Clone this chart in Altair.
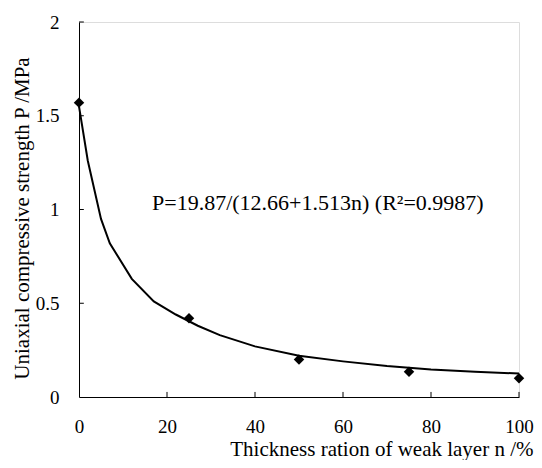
import altair as alt
import pandas as pd

# measured points
pt_n = [0, 25, 50, 75, 100]
pt_p = [1.57, 0.42, 0.20, 0.135, 0.10]

# fitted curve
fit_n = [0, 2, 5, 7, 12, 17, 22, 27, 32, 40, 50, 60, 70, 80, 90, 100]
fit_p = [1.55, 1.26, 0.95, 0.82, 0.63, 0.51, 0.44, 0.38, 0.33, 0.27, 0.22, 0.19, 0.165, 0.147, 0.135, 0.125]

x_ticks = [0, 20, 40, 60, 80, 100]
y_ticks = [0, 0.5, 1, 1.5, 2]

eq_text = "P=19.87/(12.66+1.513n) (R²=0.9987)"
x_title = "Thickness ration of weak layer n /%"
y_title = "Uniaxial compressive strength   P /MPa"

FONT = "Liberation Serif"
W, H = 440, 375
LBL = 19
TTL = 21

pts = pd.DataFrame({"n": pt_n, "p": pt_p})
fit = pd.DataFrame({"n": fit_n, "p": fit_p})
xt = pd.DataFrame({"t": x_ticks[1:]})
yt = pd.DataFrame({"t": y_ticks[1:]})

xs = alt.Scale(domain=[0, 100], nice=False)
ys = alt.Scale(domain=[0, 2], nice=False)

common = dict(grid=False, tickSize=0, labelFontSize=LBL, titleFontSize=TTL,
              titleFontWeight="normal", domainColor="black",
              labelColor="black", titleColor="black", labelFont=FONT,
              titleFont=FONT, labelFlush=False,
              labelExpr="toString(datum.value)")

x_axis = alt.Axis(values=x_ticks, title=x_title, labelPadding=20,
                  titleX=W + 14, titleY=58, titleAlign="right",
                  titleBaseline="alphabetic", **common)
y_axis = alt.Axis(values=y_ticks, title=y_title, labelPadding=20,
                  titleX=-57, titleY=196, titleBaseline="middle",
                  titleAlign="center", titleAngle=-90, **common)

line = alt.Chart(fit).mark_line(color="black", strokeWidth=2).encode(
    x=alt.X("n:Q", scale=xs, axis=x_axis),
    y=alt.Y("p:Q", scale=ys, axis=y_axis),
)
points = alt.Chart(pts).mark_point(shape="diamond", filled=True, color="black",
                                   size=110, opacity=1).encode(
    x=alt.X("n:Q", scale=xs), y=alt.Y("p:Q", scale=ys))

xticks = alt.Chart(xt).mark_rule(color="black", strokeWidth=1).encode(
    x=alt.X("t:Q", scale=xs), y=alt.datum(0), y2=alt.datum(0.027))
yticks = alt.Chart(yt).mark_rule(color="black", strokeWidth=1).encode(
    y=alt.Y("t:Q", scale=ys), x=alt.datum(0), x2=alt.datum(1.1))

label = alt.Chart(pd.DataFrame({"s": [eq_text]})).mark_text(
    align="left", baseline="middle", font=FONT, fontSize=22, color="black"
).encode(x=alt.datum(16.6), y=alt.datum(1.035), text="s:N")

chart = alt.layer(line, xticks, yticks, points, label).properties(
    width=W, height=H,
    padding={"left": 71, "top": 14, "right": 15, "bottom": 63},
    autosize="none",
).configure_view(stroke=None).configure(background="white", font=FONT)

chart.save("out.html", embed_options={"renderer": "svg", "actions": False})
